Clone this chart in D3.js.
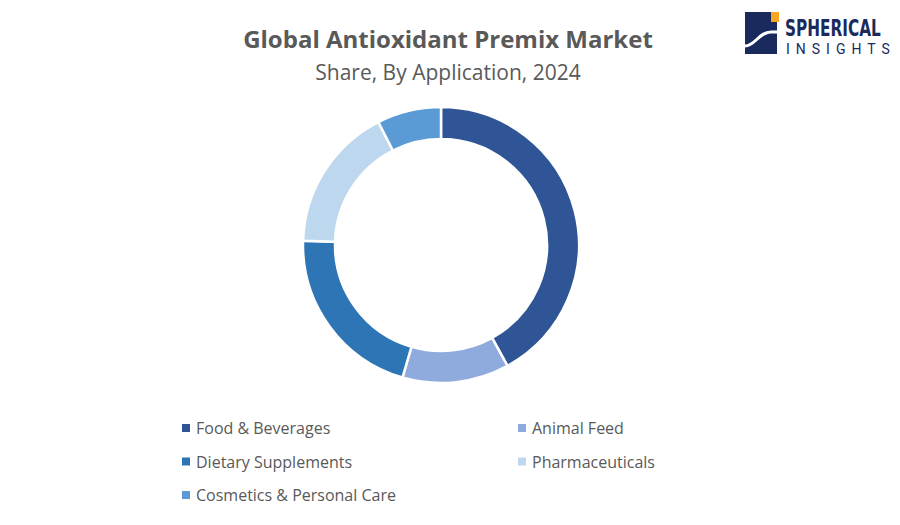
<!DOCTYPE html>
<html><head><meta charset="utf-8">
<script src="https://cdn.jsdelivr.net/npm/d3@7"></script>
<style>body{margin:0;background:#fff}svg{font-family:"Open Sans",sans-serif}</style>
</head><body><svg id="c" width="900" height="525"></svg>
<script>
const categories = ["Food & Beverages", "Animal Feed", "Dietary Supplements", "Pharmaceuticals", "Cosmetics & Personal Care"];
const shares = [42, 12.5, 21, 17, 7.5];
const colors = ["#2F5597", "#8FAADC", "#2E75B6", "#BDD7EE", "#5B9BD5"];

const svg = d3.select("#c");
svg.append("text").attr("x", 448).attr("y", 48).attr("text-anchor", "middle")
  .attr("font-size", 24).attr("font-weight", "bold").attr("fill", "#595959").text("Global Antioxidant Premix Market");
svg.append("text").attr("x", 448).attr("y", 80).attr("text-anchor", "middle")
  .attr("font-size", 21).attr("fill", "#595959").text("Share, By Application, 2024");

const pie = d3.pie().sort(null).value(d => d);
const arc = d3.arc().innerRadius(106).outerRadius(138);
svg.append("g").attr("transform", "translate(441,245)")
  .selectAll("path").data(pie(shares)).join("path")
  .attr("d", arc).attr("fill", (d, i) => colors[i])
  .attr("stroke", "#fff").attr("stroke-width", 2.5);

const legend = svg.append("g");
categories.forEach((c, i) => {
  const x = i % 2 ? 518 : 182, y = 429 + Math.floor(i / 2) * 33.5;
  legend.append("rect").attr("x", x).attr("y", y - 5).attr("width", 8).attr("height", 8).attr("fill", colors[i]);
  legend.append("text").attr("x", x + 14).attr("y", y + 5).attr("font-size", 16).attr("fill", "#595959").text(c);
});

// logo
const logo = svg.append("g").attr("transform", "translate(745,12)");
logo.append("rect").attr("width", 32).attr("height", 42).attr("fill", "#1a2a5c");
logo.append("rect").attr("x", 26).attr("width", 8).attr("height", 10).attr("fill", "#f5a623");
logo.append("path").attr("d", "M0,34 C10,34 14,20 26,20 L32,20").attr("stroke", "#fff").attr("stroke-width", 3).attr("fill", "none");
logo.append("text").attr("transform", "translate(40,24) scale(1,1.4)").attr("font-size", 17).attr("font-weight", "bold")
  .attr("fill", "#1a2a5c").attr("font-family", "'DejaVu Sans Condensed', sans-serif").text("SPHERICAL");
logo.append("text").attr("x", 41).attr("y", 42).attr("font-size", 14)
  .attr("fill", "#1a2a5c").attr("font-family", "Roboto").attr("letter-spacing", 6).text("INSIGHTS");
</script></body></html>
